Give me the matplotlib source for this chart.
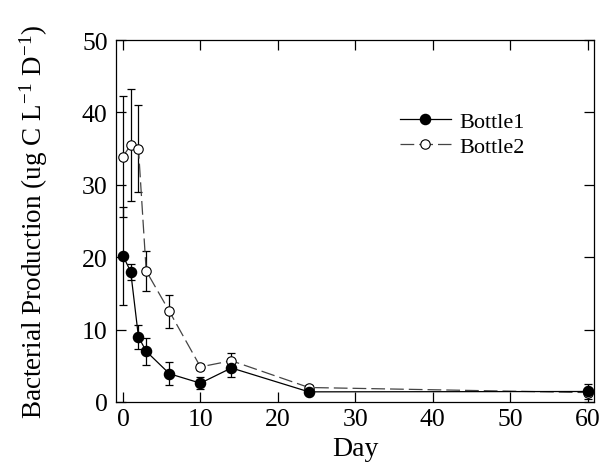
import matplotlib.pyplot as plt

# Bacterial production for the two incubation bottles
days = [0, 1, 2, 3, 6, 10, 14, 24, 60]
bottle1 = [20.2, 18.0, 9.0, 7.0, 3.9, 2.6, 4.7, 1.4, 1.45]
bottle1_err = [6.8, 1.1, 1.7, 1.9, 1.6, 0.8, 1.3, 0.3, 1.05]
bottle2 = [33.9, 35.5, 35.0, 18.1, 12.5, 4.85, 5.7, 2.0, 1.3]
bottle2_err = [8.4, 7.7, 6.0, 2.75, 2.25, 0.4, 1.0, 0.3, 0.3]

plt.rcParams["font.family"] = ["Liberation Serif", "DejaVu Serif"]
plt.rcParams["mathtext.fontset"] = "stix"

fig = plt.figure(figsize=(6.0, 4.64), dpi=100)
ax = fig.add_axes([0.1933, 0.1315, 0.7967, 0.7801])

ax.errorbar(days, bottle2, yerr=bottle2_err, fmt="none", ecolor="black",
            elinewidth=0.9, capsize=3.2, capthick=0.9, zorder=2)
ax.errorbar(days, bottle1, yerr=bottle1_err, fmt="none", ecolor="black",
            elinewidth=0.9, capsize=3.2, capthick=0.9, zorder=2)

ax.plot(days, bottle1, color="black", linewidth=0.9, marker="o",
        markersize=7.3, markerfacecolor="black", markeredgecolor="black",
        label="Bottle1", zorder=4)
ax.plot(days, bottle2, color="#444444", linewidth=0.9, dashes=(11, 4),
        marker="o", markersize=6.8, markerfacecolor="white",
        markeredgecolor="black", markeredgewidth=0.8, label="Bottle2",
        zorder=3)

ax.set_xlim(-0.9, 60.8)
ax.set_ylim(0, 50)
ax.set_xticks(range(0, 61, 10))
ax.set_yticks(range(0, 51, 10))
ax.tick_params(direction="in", length=7, width=0.9, top=True, right=True,
               labelsize=18.5)
ax.tick_params(axis="y", pad=6)
ax.tick_params(axis="x", pad=4)
for s in ax.spines.values():
    s.set_linewidth(0.9)

ax.set_xlabel("Day", fontsize=20, labelpad=5)
ax.set_ylabel(r"Bacterial Production (ug C L$^{\mathregular{-1}}$ D$^{\mathregular{-1}}$)",
              fontsize=19.5, labelpad=23)

ax.legend(loc="upper left", bbox_to_anchor=(0.575, 0.828), frameon=False,
          fontsize=16, handlelength=2.3, handletextpad=0.4,
          labelspacing=0.2, borderaxespad=0)

fig.savefig("out.png", dpi=100)
